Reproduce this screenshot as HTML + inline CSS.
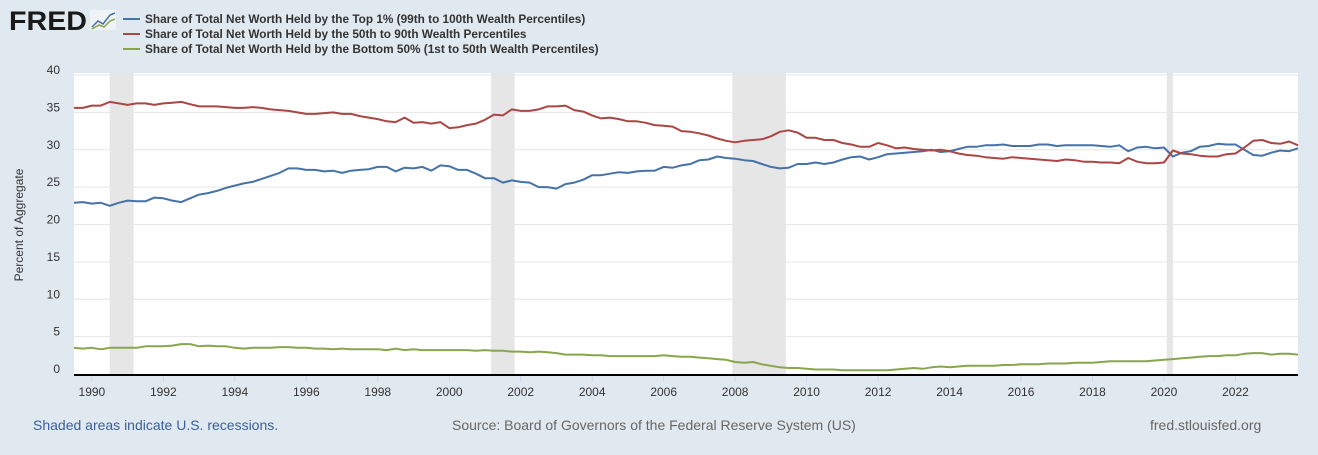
<!DOCTYPE html>
<html><head><meta charset="utf-8"><style>
body{margin:0;background:#e1e9f0;width:1318px;height:450px;overflow:hidden;font-family:"Liberation Sans",sans-serif}
</style></head><body>
<svg id="chart" width="1318" height="450" xmlns="http://www.w3.org/2000/svg" font-family="Liberation Sans, sans-serif">
<rect width="1318" height="450" fill="#e1e9f0"/>
<g>
<text x="9" y="30" font-size="27" font-weight="bold" fill="#1a1a1a" textLength="78" lengthAdjust="spacingAndGlyphs">FRED</text>
<rect x="90" y="10" width="26" height="20" fill="#f0f3f6" rx="2"/>
<polyline points="92,27 98,21 103,24 110,15 115,13" fill="none" stroke="#4572a7" stroke-width="1.5"/>
<polyline points="92,29 99,25 104,27 110,21 115,19" fill="none" stroke="#89a54e" stroke-width="1.5"/>
</g>
<g id="legend" font-size="11.8" font-weight="bold" fill="#333"></g>
<rect x="74" y="73" width="1224" height="301" fill="#fff"/>
<g id="rec"></g><g id="grid"></g><g id="series"></g><g id="axes"></g>
<text transform="translate(23,225) rotate(-90)" text-anchor="middle" font-size="12" fill="#333">Percent of Aggregate</text>
<text x="33" y="430" font-size="14" fill="#3a5f9c">Shaded areas indicate U.S. recessions.</text>
<text x="452" y="430" font-size="14" fill="#666">Source: Board of Governors of the Federal Reserve System (US)</text>
<text x="1150" y="430" font-size="14" fill="#666">fred.stlouisfed.org</text>
</svg>
<script>
const startYear = 1989.5;
const yTicks = [0,5,10,15,20,25,30,35,40];
const xTicks = [1990,1992,1994,1996,1998,2000,2002,2004,2006,2008,2010,2012,2014,2016,2018,2020,2022];
const recessions = [[1990.5,1991.17],[2001.17,2001.83],[2007.92,2009.42],[2020.08,2020.25]];
const seriesNames = ["Share of Total Net Worth Held by the Top 1% (99th to 100th Wealth Percentiles)","Share of Total Net Worth Held by the 50th to 90th Wealth Percentiles","Share of Total Net Worth Held by the Bottom 50% (1st to 50th Wealth Percentiles)"];
const top1 = [22.9,23.0, 22.8,22.9,22.5,22.9, 23.2,23.1,23.1,23.6, 23.5,23.2,23.0,23.5, 24.0,24.2,24.5,24.9, 25.2,25.5,25.7,26.1, 26.5,26.9,27.5,27.5, 27.3,27.3,27.1,27.2, 26.9,27.2,27.3,27.4, 27.7,27.7,27.1,27.6, 27.5,27.7,27.2,27.9, 27.8,27.3,27.3,26.8, 26.2,26.2,25.6,25.9, 25.7,25.6,25.0,25.0, 24.8,25.4,25.6,26.0, 26.6,26.6,26.8,27.0, 26.9,27.1,27.2,27.2, 27.7,27.6,27.9,28.1, 28.6,28.7,29.1,28.9, 28.8,28.6,28.5,28.1, 27.7,27.5,27.6,28.1, 28.1,28.3,28.1,28.3, 28.7,29.0,29.1,28.7, 29.0,29.4,29.5,29.6, 29.7,29.8,30.0,29.7, 29.8,30.1,30.4,30.4, 30.6,30.6,30.7,30.5, 30.5,30.5,30.7,30.7, 30.5,30.6,30.6,30.6, 30.6,30.5,30.4,30.6, 29.8,30.3,30.4,30.2, 30.3,29.1,29.6,29.8, 30.4,30.5,30.8,30.7, 30.7,30.0,29.3,29.2, 29.6,29.9,29.8,30.2];
const mid50to90 = [35.6,35.6, 35.9,35.9,36.4,36.2, 36.0,36.2,36.2,36.0, 36.2,36.3,36.4,36.1, 35.8,35.8,35.8,35.7, 35.6,35.6,35.7,35.6, 35.4,35.3,35.2,35.0, 34.8,34.8,34.9,35.0, 34.8,34.8,34.5,34.3, 34.1,33.8,33.7,34.3, 33.6,33.7,33.5,33.7, 32.9,33.0,33.3,33.5, 34.0,34.7,34.6,35.4, 35.2,35.2,35.4,35.8, 35.8,35.9,35.3,35.1, 34.6,34.2,34.3,34.1, 33.8,33.8,33.6,33.3, 33.2,33.1,32.5,32.4, 32.2,31.9,31.5,31.2, 31.0,31.2,31.3,31.4, 31.8,32.4,32.6,32.3, 31.6,31.6,31.3,31.3, 30.9,30.7,30.4,30.4, 30.9,30.6,30.2,30.3, 30.1,30.0,29.9,30.0, 29.8,29.5,29.3,29.2, 29.0,28.9,28.8,29.0, 28.9,28.8,28.7,28.6, 28.5,28.7,28.6,28.4, 28.4,28.3,28.3,28.2, 28.9,28.4,28.2,28.2, 28.3,29.9,29.5,29.4, 29.2,29.1,29.1,29.4, 29.5,30.3,31.2,31.3, 30.9,30.8,31.1,30.6];
const bottom50 = [3.5,3.4, 3.5,3.3,3.5,3.5, 3.5,3.5,3.7,3.7, 3.7,3.8,4.0,4.0, 3.7,3.8,3.7,3.7, 3.5,3.4,3.5,3.5, 3.5,3.6,3.6,3.5, 3.5,3.4,3.4,3.3, 3.4,3.3,3.3,3.3, 3.3,3.2,3.4,3.2, 3.3,3.2,3.2,3.2, 3.2,3.2,3.2,3.1, 3.2,3.1,3.1,3.0, 3.0,2.9,3.0,2.9, 2.8,2.6,2.6,2.6, 2.5,2.5,2.4,2.4, 2.4,2.4,2.4,2.4, 2.5,2.4,2.3,2.3, 2.2,2.1,2.0,1.9, 1.6,1.5,1.6,1.3, 1.1,0.9,0.8,0.8, 0.7,0.6,0.6,0.6, 0.5,0.5,0.5,0.5, 0.5,0.5,0.6,0.7, 0.8,0.7,0.9,1.0, 0.9,1.0,1.1,1.1, 1.1,1.1,1.2,1.2, 1.3,1.3,1.3,1.4, 1.4,1.4,1.5,1.5, 1.5,1.6,1.7,1.7, 1.7,1.7,1.7,1.8, 1.9,2.0,2.1,2.2, 2.3,2.4,2.4,2.5, 2.5,2.7,2.8,2.8, 2.6,2.7,2.7,2.6];

const NS="http://www.w3.org/2000/svg";
const X0=74,X1=1298,Y0=374,Y1=75;
const endYear=startYear+(top1.length-1)/4;
const xs=t=>X0+(t-startYear)/(endYear-startYear)*(X1-X0);
const ys=v=>Y0-v/40*(Y0-Y1);
function mk(tag,attrs,parent,text){const e=document.createElementNS(NS,tag);for(const k in attrs)e.setAttribute(k,attrs[k]);if(text!==undefined)e.textContent=text;document.getElementById(parent).appendChild(e);return e;}

recessions.forEach(r=>{
  const e=mk('rect',{x:xs(r[0]),y:Y1-2,width:xs(r[1])-xs(r[0]),height:Y0-Y1+2,fill:'#e6e6e6'},'rec');
  
  
});
yTicks.forEach(v=>{
  if(v>0){const g=mk('line',{x1:X0,x2:X1,y1:ys(v),y2:ys(v),stroke:'#e6e6e6','stroke-width':1},'grid');
  
  }
  const t=mk('text',{x:60,y:ys(v)-1,'text-anchor':'end','font-size':12,fill:'#333'},'axes',String(v));
  
  
});
const colors=['#4572a7','#aa4643','#89a54e'];
[top1,mid50to90,bottom50].forEach((s,i)=>{
  const pts=s.map((v,j)=>xs(startYear+j/4).toFixed(1)+','+ys(v).toFixed(1)).join(' ');
  const p=mk('polyline',{points:pts,fill:'none',stroke:colors[i],'stroke-width':2,'stroke-linejoin':'round'},'series');
  
  
  const l=mk('line',{x1:123,x2:140,y1:19+i*15,y2:19+i*15,stroke:colors[i],'stroke-width':2},'legend');
  
  
  const t=mk('text',{x:145,y:23+i*15},'legend',seriesNames[i]);
  
  
});
const ax=mk('line',{x1:X0,x2:X1,y1:Y0+1,y2:Y0+1,stroke:'#000','stroke-width':2},'axes');


xTicks.forEach(y=>{
  const tk=mk('line',{x1:xs(y),x2:xs(y),y1:Y0+2,y2:Y0+8,stroke:'#ccd6eb'},'axes');
  
  
  const t=mk('text',{x:xs(y),y:396,'text-anchor':'middle','font-size':12,fill:'#333'},'axes',String(y));
  
  
});
</script>
</body></html>
